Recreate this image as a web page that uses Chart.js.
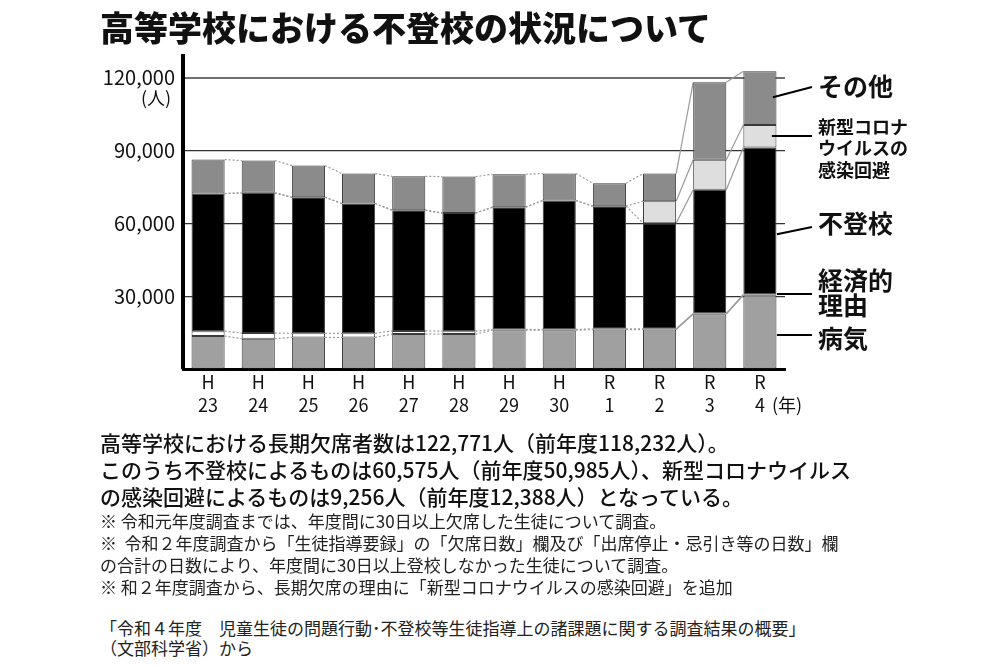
<!DOCTYPE html>
<html lang="ja">
<head>
<meta charset="utf-8">
<title>高等学校における不登校の状況について</title>
<script src="https://cdn.jsdelivr.net/npm/chart.js@4.4.1/dist/chart.umd.min.js"></script>
<style>
    body { margin: 0; background: #fff; font-family: "Noto Sans CJK JP", sans-serif; color: #111; }
    .page { position: relative; width: 1000px; height: 667px; overflow: hidden; }
    .title { position: absolute; left: 100px; top: 10px; font-size: 34px; font-weight: 900; line-height: 34px; margin: 0; letter-spacing: 0; }
    .chart-box { position: absolute; left: 0; top: 0; width: 1000px; height: 430px; }
    .summary { position: absolute; left: 100px; top: 429px; font-size: 21px; line-height: 27px; font-weight: 500; white-space: nowrap; }
    .notes { position: absolute; left: 100px; top: 510px; font-size: 17px; line-height: 22px; white-space: nowrap; color: #222; }
    .source { position: absolute; left: 100px; top: 618px; font-size: 17px; line-height: 20px; white-space: nowrap; color: #222; }
</style>
</head>
<body>
<div class="page">
    <div class="chart-box"><canvas id="absence-chart"></canvas></div>
    <h1 class="title">高等学校における不登校の状況について</h1>
    <div class="summary">
        高等学校における長期欠席者数は122,771人（前年度118,232人）。<br>
        このうち不登校によるものは60,575人（前年度50,985人）、新型コロナウイルス<br>
        の感染回避によるものは9,256人（前年度12,388人）となっている。
    </div>
    <div class="notes">
        ※ 令和元年度調査までは、年度間に30日以上欠席した生徒について調査。<br>
        ※&nbsp; 令和２年度調査から「生徒指導要録」の「欠席日数」欄及び「出席停止・忌引き等の日数」欄<br>
        の合計の日数により、年度間に30日以上登校しなかった生徒について調査。<br>
        ※ 和２年度調査から、長期欠席の理由に「新型コロナウイルスの感染回避」を追加
    </div>
    <div class="source">
        「令和４年度　児童生徒の問題行動･不登校等生徒指導上の諸課題に関する調査結果の概要」<br>
        （文部科学省）から
    </div>
</div>

<script>
// Data
var eras = ["H", "H", "H", "H", "H", "H", "H", "H", "R", "R", "R", "R"];
var years = ["23", "24", "25", "26", "27", "28", "29", "30", "1", "2", "3", "4"];
var illness = [13600, 12500, 13000, 13000, 14400, 14400, 16000, 16000, 16250, 16250, 22600, 30400];
var economic = [2000, 2300, 1700, 1700, 1300, 1200, 300, 300, 300, 300, 300, 300];
var truancy = [56700, 57800, 56100, 53500, 49750, 48650, 50400, 53160, 50550, 43570, 50985, 60575];
var covid = [0, 0, 0, 0, 0, 0, 0, 0, 0, 9040, 12388, 9256];
var other = [14000, 13300, 13050, 12350, 13950, 15050, 13570, 11100, 9470, 11380, 31900, 22200];
var yTicks = [30000, 60000, 90000, 120000];

var FONT = '"Noto Sans CJK JP", sans-serif';

// Dotted lines between the bars, joining each boundary of the stacks
var connectorPlugin = {
    id: 'connectors',
    beforeDatasetsDraw: function (chart) {
        var ctx = chart.ctx;
        var y = chart.scales.y;
        var bars = chart.getDatasetMeta(0).data;
        var series = chart.data.datasets.map(function (d) { return d.data; });
        ctx.save();
        ctx.strokeStyle = '#9a9a9a';
        ctx.lineWidth = 1.2;
        for (var b = 0; b < series.length; b++) {
            for (var i = 0; i < bars.length - 1; i++) {
                var c1 = 0, c2 = 0;
                for (var k = 0; k <= b; k++) { c1 += series[k][i]; c2 += series[k][i + 1]; }
                ctx.setLineDash(i >= 9 ? [] : [2, 2]);
                ctx.beginPath();
                ctx.moveTo(bars[i].x + bars[i].width / 2, y.getPixelForValue(c1));
                ctx.lineTo(bars[i + 1].x - bars[i + 1].width / 2, y.getPixelForValue(c2));
                ctx.stroke();
            }
        }
        ctx.restore();
    }
};

// Unit labels and the legend at the right of the last bar
var labelPlugin = {
    id: 'sideLabels',
    afterDraw: function (chart) {
        var ctx = chart.ctx;
        var y = chart.scales.y;
        var bars = chart.getDatasetMeta(0).data;
        var last = bars[bars.length - 1];
        ctx.save();
        ctx.fillStyle = '#111';
        ctx.textBaseline = 'middle';

        ctx.font = '18px ' + FONT;
        ctx.textAlign = 'center';
        ctx.fillText('(人)', 156, y.getPixelForValue(120000) + 20);
        ctx.textAlign = 'left';
        ctx.fillText('(年)', last.x + 12, chart.chartArea.bottom + 36);

        var endX = 812;
        var items = [
            { value: 112000, dx: 13, endY: 87, lines: ['その他'], size: 25, top: 86 },
            { value: 96000, dx: 12, endY: 136, lines: ['新型コロナ', 'ウイルスの', '感染回避'], size: 18, top: 127 },
            { value: 55500, dx: 17, endY: 227, lines: ['不登校'], size: 25, top: 223 },
            { value: 30900, dx: 17, endY: 294, lines: ['経済的', '理由'], size: 25, top: 280 },
            { value: 14000, dx: 17, endY: 335, lines: ['病気'], size: 25, top: 338 }
        ];
        ctx.strokeStyle = '#000';
        ctx.lineWidth = 2;
        items.forEach(function (it) {
            ctx.beginPath();
            ctx.moveTo(last.x + it.dx, y.getPixelForValue(it.value));
            ctx.lineTo(endX, it.endY);
            ctx.stroke();
            ctx.font = 'bold ' + it.size + 'px ' + FONT;
            var lh = it.size <= 18 ? 21.5 : 25;
            it.lines.forEach(function (t, n) {
                ctx.fillText(t, endX + 6, it.top + n * lh);
            });
        });
        ctx.restore();
    }
};

// Chart
var ctx1 = document.getElementById('absence-chart').getContext('2d');
var myChart1 = new Chart(ctx1, {
    type: 'bar',
    data: {
        labels: eras.map(function (e, i) { return [e, years[i]]; }),
        datasets: [
            { label: '病気', data: illness, backgroundColor: '#a0a0a0' },
            { label: '経済的理由', data: economic, backgroundColor: '#ffffff' },
            { label: '不登校', data: truancy, backgroundColor: '#000000' },
            { label: '新型コロナウイルスの感染回避', data: covid, backgroundColor: '#dedede' },
            { label: 'その他', data: other, backgroundColor: '#8b8b8b' }
        ]
    },
    options: {
        responsive: true,
        maintainAspectRatio: false,
        animation: false,
        layout: { padding: { top: 56, right: 215, left: 0, bottom: 0 } },
        datasets: {
            bar: {
                borderColor: '#3a3a3a',
                borderWidth: 1,
                borderSkipped: false,
                barPercentage: 0.66,
                categoryPercentage: 1.0
            }
        },
        plugins: {
            legend: { display: false },
            tooltip: { enabled: false }
        },
        scales: {
            x: {
                stacked: true,
                afterFit: function (scale) { scale.height = 61; },
                grid: { display: false, drawTicks: false },
                border: { color: '#000', width: 3 },
                ticks: {
                    color: '#111',
                    padding: 2,
                    maxRotation: 0,
                    font: { family: FONT, size: 18, lineHeight: 1.25 }
                }
            },
            y: {
                stacked: true,
                min: 0,
                max: 129000,
                afterFit: function (scale) { scale.width = 183; },
                afterBuildTicks: function (scale) {
                    scale.ticks = [{ value: 0 }].concat(yTicks.map(function (v) { return { value: v }; }));
                },
                grid: {
                    drawTicks: false,
                    color: function (c) { return c.tick && c.tick.value === 120000 ? '#707070' : '#333'; },
                    lineWidth: function (c) { return c.tick && c.tick.value === 120000 ? 2 : 1.2; }
                },
                border: { color: '#000', width: 4 },
                ticks: {
                    color: '#111',
                    padding: 8,
                    font: { family: FONT, size: 20 },
                    callback: function (v) { return v === 0 ? '' : v.toLocaleString('en-US'); }
                }
            }
        }
    },
    plugins: [connectorPlugin, labelPlugin]
});
</script>
</body>
</html>
